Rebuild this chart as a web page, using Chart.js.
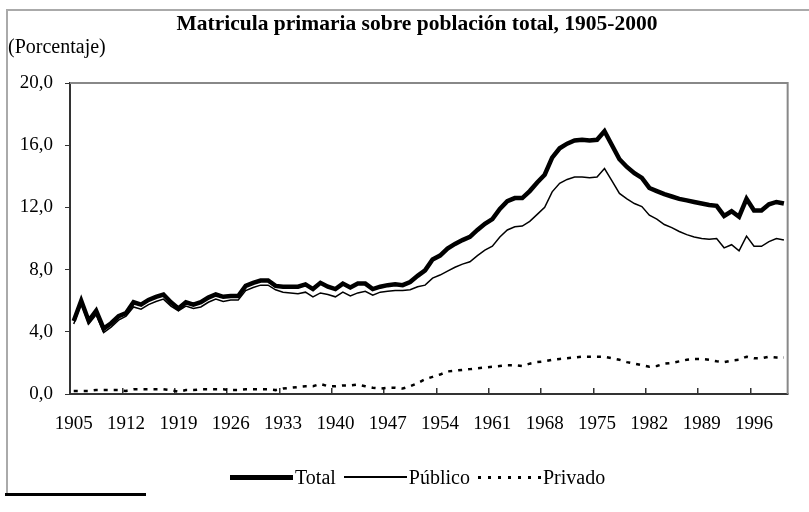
<!DOCTYPE html>
<html>
<head>
<meta charset="utf-8">
<script src="https://cdn.jsdelivr.net/npm/chart.js@4.4.1/dist/chart.umd.min.js"></script>
<style>
  html, body { margin: 0; padding: 0; background: #fff; }
  #wrap { position: relative; width: 809px; height: 512px; overflow: hidden; font-family: "Liberation Serif", "Times New Roman", serif; color: #000; }
  #frame { position: absolute; left: 6px; top: 9px; width: 820px; height: 482px; border-top: 2px solid #aaa; border-left: 2px solid #aaa; }
  #title { position: absolute; left: 0; width: 834px; top: 10px; text-align: center; font-weight: bold; font-size: 21.5px; line-height: 26px; }
  #unit { position: absolute; left: 8px; top: 35px; font-size: 20px; }
  #legend { position: absolute; left: 230px; top: 464px; height: 26px; display: flex; align-items: center; font-size: 20px; }
  #legend .sample { display: inline-block; width: 63px; margin-right: 2px; }
  #legend .item { display: flex; align-items: center; margin-right: 8px; }
  #rule { position: absolute; left: 5px; top: 493px; width: 141px; height: 3px; background: #000; }
  canvas { position: absolute; left: 0; top: 0; }
</style>
</head>
<body>
<div id="wrap">
  <div id="frame"></div>
  <canvas id="chart" width="809" height="512"></canvas>
  <div id="title">Matricula primaria sobre población total, 1905-2000</div>
  <div id="unit">(Porcentaje)</div>
  <div id="legend"></div>
  <div id="rule"></div>
</div>
<script>
'use strict';

/**
 * data
 */

const firstYear = 1905;
const lastYear = 2000;
const years = [];
for (let y = firstYear; y <= lastYear; y++) years.push(String(y));

const xTickLabels = ['1905', '1912', '1919', '1926', '1933', '1940', '1947',
  '1954', '1961', '1968', '1975', '1982', '1989', '1996'];
const yTicks = [0, 4, 8, 12, 16, 20];

const total = [
  4.7, 6.0, 4.7, 5.35, 4.2, 4.55, 5.0, 5.2, 5.9, 5.75,
  6.05, 6.25, 6.4, 5.9, 5.5, 5.9, 5.75, 5.9, 6.2, 6.4,
  6.25, 6.3, 6.3, 6.95, 7.15, 7.3, 7.3, 6.95, 6.9, 6.9,
  6.9, 7.05, 6.75, 7.15, 6.9, 6.75, 7.1, 6.85, 7.1, 7.1,
  6.75, 6.9, 7.0, 7.05, 7.0, 7.2, 7.6, 7.95, 8.65, 8.9,
  9.35, 9.65, 9.9, 10.1, 10.55, 10.95, 11.25, 11.9, 12.4, 12.6,
  12.6, 13.05, 13.6, 14.1, 15.2, 15.8, 16.1, 16.3, 16.35, 16.3,
  16.35, 16.9, 16.0, 15.1, 14.6, 14.2, 13.9, 13.25, 13.05, 12.85,
  12.7, 12.55, 12.45, 12.35, 12.25, 12.15, 12.1, 11.45, 11.75, 11.4,
  12.55, 11.8, 11.8, 12.2, 12.35, 12.25
];

const publico = [
  4.5, 5.8, 4.5, 5.1, 3.95, 4.3, 4.75, 5.0, 5.6, 5.45,
  5.75, 5.95, 6.1, 5.65, 5.35, 5.65, 5.5, 5.6, 5.9, 6.1,
  5.95, 6.05, 6.05, 6.65, 6.85, 7.0, 7.0, 6.7, 6.55, 6.5,
  6.45, 6.55, 6.25, 6.5, 6.4, 6.25, 6.55, 6.3, 6.5, 6.6,
  6.35, 6.55, 6.6, 6.65, 6.65, 6.7, 6.9, 7.0, 7.45, 7.65,
  7.9, 8.15, 8.35, 8.5, 8.9, 9.25, 9.5, 10.1, 10.55, 10.75,
  10.8, 11.1, 11.55, 12.0, 13.0, 13.55, 13.8, 13.95, 13.95, 13.9,
  13.95, 14.5, 13.7, 12.9, 12.55, 12.25, 12.05, 11.5, 11.25, 10.9,
  10.7, 10.45, 10.25, 10.1, 10.0, 9.95, 10.0, 9.4, 9.6, 9.2,
  10.15, 9.5, 9.5, 9.8, 10.0, 9.9
];

const privado = [
  0.2, 0.2, 0.2, 0.25, 0.25, 0.25, 0.25, 0.2, 0.3, 0.3,
  0.3, 0.3, 0.3, 0.25, 0.15, 0.25, 0.25, 0.3, 0.3, 0.3,
  0.3, 0.25, 0.25, 0.3, 0.3, 0.3, 0.3, 0.25, 0.35, 0.4,
  0.45, 0.5, 0.5, 0.65, 0.5, 0.5, 0.55, 0.55, 0.6, 0.5,
  0.4, 0.35, 0.4, 0.4, 0.35, 0.5, 0.7, 0.95, 1.1, 1.25,
  1.45, 1.5, 1.55, 1.6, 1.65, 1.7, 1.75, 1.8, 1.85, 1.85,
  1.8, 1.95, 2.05, 2.1, 2.2, 2.25, 2.3, 2.35, 2.4, 2.4,
  2.4, 2.4, 2.3, 2.2, 2.05, 1.95, 1.85, 1.75, 1.8, 1.95,
  2.0, 2.1, 2.2, 2.25, 2.25, 2.2, 2.1, 2.05, 2.15, 2.2,
  2.4, 2.3, 2.3, 2.4, 2.35, 2.35
];

/**
 * chart
 */

const serif = '"Liberation Serif", "Times New Roman", serif';

// top and right edge of the plot box
const boxPlugin = {
  id: 'plotBox',
  afterDraw(chart) {
    const a = chart.chartArea;
    const c = chart.ctx;
    c.save();
    c.strokeStyle = '#888';
    c.lineWidth = 2;
    c.beginPath();
    c.moveTo(a.left, a.top);
    c.lineTo(a.right, a.top);
    c.lineTo(a.right, a.bottom);
    c.stroke();
    c.restore();
  }
};

const ctx = document.getElementById('chart').getContext('2d');
const chart = new Chart(ctx, {
  type: 'line',
  data: {
    labels: years,
    datasets: [{
      label: 'Total',
      data: total,
      borderColor: '#000',
      borderWidth: 4.5,
      pointRadius: 0,
      tension: 0
    }, {
      label: 'Público',
      data: publico,
      borderColor: '#000',
      borderWidth: 1.5,
      pointRadius: 0,
      tension: 0
    }, {
      label: 'Privado',
      data: privado,
      borderColor: '#000',
      borderWidth: 2.5,
      borderDash: [4, 6],
      pointRadius: 0,
      tension: 0
    }]
  },
  options: {
    responsive: false,
    animation: false,
    layout: {
      padding: { left: 0, right: 17, top: 83, bottom: 58 }
    },
    plugins: {
      title: { display: false },
      legend: { display: false },
      tooltip: { enabled: false }
    },
    scales: {
      x: {
        type: 'category',
        offset: true,
        afterFit(scale) { scale.height = 60; },
        border: { color: '#333', width: 2 },
        grid: {
          offset: true,
          drawOnChartArea: false,
          tickLength: -6,
          lineWidth: 1.5,
          color: (c) => (c.index % 7 === 0 ? '#333' : 'rgba(0,0,0,0)')
        },
        ticks: {
          autoSkip: false,
          maxRotation: 0,
          minRotation: 0,
          padding: 25,
          color: '#000',
          font: { family: serif, size: 19 },
          callback: function (value) {
            const lab = this.getLabelForValue(value);
            return xTickLabels.includes(lab) ? lab : '';
          }
        }
      },
      y: {
        min: 0,
        max: 20,
        afterFit(scale) { scale.width = 70; },
        afterBuildTicks(scale) { scale.ticks = yTicks.map(v => ({ value: v })); },
        border: { color: '#333', width: 2 },
        grid: {
          drawOnChartArea: false,
          tickLength: 5,
          color: '#333'
        },
        ticks: {
          padding: 12,
          color: '#000',
          font: { family: serif, size: 19 },
          callback: (v) => v.toFixed(1).replace('.', ',')
        }
      }
    }
  },
  plugins: [boxPlugin]
});

/**
 * legend (line samples run straight into the text, as in the original)
 */

const legendBox = document.getElementById('legend');
chart.data.datasets.forEach(function (ds) {
  const item = document.createElement('span');
  item.className = 'item';
  const sample = document.createElement('span');
  sample.className = 'sample';
  if (ds.borderDash) {
    sample.style.height = '3px';
    sample.style.background = 'repeating-linear-gradient(90deg, #000 0 3px, transparent 3px 10px)';
  } else {
    sample.style.height = Math.max(1, Math.round(ds.borderWidth)) + 'px';
    sample.style.background = ds.borderColor;
  }
  const text = document.createElement('span');
  text.textContent = ds.label;
  item.appendChild(sample);
  item.appendChild(text);
  legendBox.appendChild(item);
});
</script>
</body>
</html>
